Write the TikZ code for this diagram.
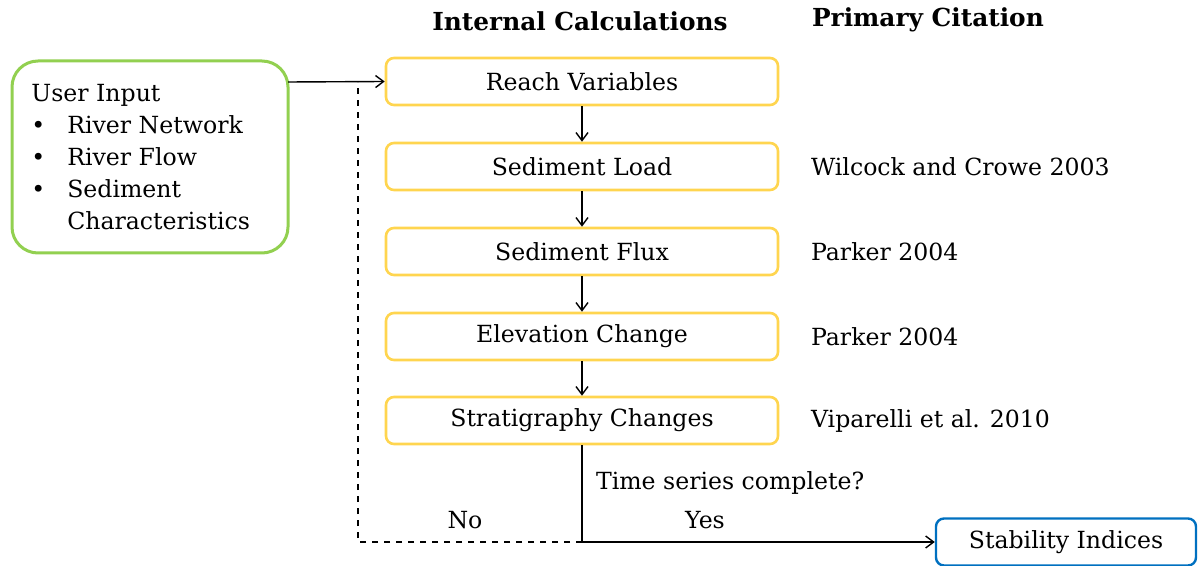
\documentclass[tikz,border=0pt]{standalone}
\usepackage{fontspec}
\setmainfont{DejaVu Serif}
\usetikzlibrary{positioning,arrows.meta}
\definecolor{inputgreen}{HTML}{92D050}
\definecolor{calcyellow}{HTML}{FFD54F}
\definecolor{outblue}{HTML}{0070C0}
\tikzset{
	calcbox/.style={draw=calcyellow,line width=1.3pt,rounded corners=4pt,minimum width=196pt,minimum height=23.5pt,inner sep=0pt},
	outbox/.style={draw=outblue,line width=1.2pt,rounded corners=4pt,minimum width=130pt,minimum height=23.5pt,inner sep=0pt},
	cite/.style={anchor=west},
	flow/.style={-{Straight Barb[length=4pt,width=6pt]},line width=0.7pt}
}
\begin{document}
\begin{tikzpicture}[x=0.5pt,y=-0.5pt,font=\fontsize{11.8}{16}\selectfont]
			\useasboundingbox (0,0) rectangle (1203,566);
			% headers
			\node[font=\fontsize{12.4}{16}\selectfont\bfseries] (hcalc) at (580,21) {Internal Calculations};
			\node[font=\fontsize{12.4}{16}\selectfont\bfseries,anchor=west] (hcite) at (805,20) {Primary Citation};
			% user input
			\draw[inputgreen,line width=1.5pt,rounded corners=13pt] (12,61) rectangle (288,253);
			\node[anchor=north west,inner sep=0pt] (input) at (31,79) {\begin{tabular}{@{}l@{\hspace{11pt}}l@{}}
				\multicolumn{2}{@{}l}{User Input}\\
				\textbullet & River Network\\
				\textbullet & River Flow\\
				\textbullet & Sediment\\
				& Characteristics
			\end{tabular}};
			\coordinate (inout) at (288,82);
			% internal calculations
			\node[calcbox] (reach) at (582,81.5) {Reach Variables};
			\node[calcbox] (load) at (582,166.5) {Sediment Load};
			\node[calcbox] (flux) at (582,251.5) {Sediment Flux};
			\node[calcbox] (elev) at (582,336.5) {Elevation Change};
			\node[calcbox] (strat) at (582,420.5) {Stratigraphy Changes};
			\draw[flow] (inout) -- (reach.west);
			\draw[flow] (reach) -- (load);
			\draw[flow] (load) -- (flux);
			\draw[flow] (flux) -- (elev);
			\draw[flow] (elev) -- (strat);
			% citations
			\node[cite] (c1) at (804,166.5) {Wilcock and Crowe 2003};
			\node[cite] (c2) at (804,251.5) {Parker 2004};
			\node[cite] (c3) at (804,336.5) {Parker 2004};
			\node[cite] (c4) at (804,420.5) {Viparelli et al. 2010};
			% time loop
			\node[outbox] (stab) at (1066,542) {Stability Indices};
			\coordinate (split) at (strat.south |- stab);
			\coordinate (back) at (358,542);
			\draw[line width=0.7pt] (strat.south) -- (split);
			\draw[flow] (split) -- (stab.west);
			\draw[dashed,line width=0.7pt] (split) -- (back) -- (back |- inout);
			\node[anchor=west] (ask) at (589,483) {Time series complete?};
			\node (no) at (465,520) {No};
			\node (yes) at (705,520) {Yes};
		\end{tikzpicture}
\end{document}
